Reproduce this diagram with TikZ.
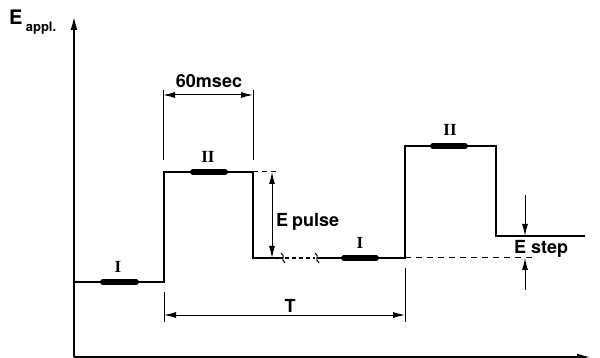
\documentclass[tikz,border=0pt]{standalone}
\usepackage{fontspec}
\setmainfont{TeX Gyre Heros}
\newfontfamily\numeralfont{Liberation Serif}
\usetikzlibrary{arrows.meta}

\tikzset{
  wave/.style={line width=1.5pt},
  dimline/.style={line width=1pt},
  pulsebar/.style={line width=6pt, line cap=round},
  dimarrow/.style={dimline, {Latex[length=12pt,width=6pt]}-{Latex[length=12pt,width=6pt]}},
  onearrow/.style={dimline, -{Latex[length=12pt,width=6pt]}},
  lbl/.style={font=\bfseries\fontsize{18}{20}\selectfont, inner sep=1pt},
  roman/.style={font=\numeralfont\bfseries\fontsize{17}{18}\selectfont, inner sep=1pt}
}

\begin{document}
\begin{tikzpicture}[x=1pt, y=-1pt]
        \useasboundingbox (0,0) rectangle (600,358);
        % axes
        \coordinate (origin) at (74,357);
        \coordinate (ytip) at (74,17);
        \coordinate (xtip) at (590,357);
        \draw[wave, -{Latex[length=13pt,width=7pt]}] (origin) -- (ytip);
        \draw[wave, -{Latex[length=13pt,width=7pt]}] (origin) -- (xtip);
        \node[anchor=west, inner sep=0pt, font=\bfseries] (eappl) at (9,22) {\fontsize{20}{20}\selectfont E\,\raisebox{-0.7ex}{\fontsize{13}{13}\selectfont appl.}};
        % waveform
        \draw[wave] (74,282) -- (164,282) -- (164,172) -- (253,172) -- (253,258) -- (283,258);
        \draw[wave, dash pattern=on 4pt off 3pt] (285,258) -- (315,258);
        \draw[wave] (317,258) -- (405,258) -- (405,146) -- (496,146) -- (496,236) -- (585,236);
        \draw[dimline] (281,253) .. controls (286,256) and (280,259) .. (285,263);
        \draw[dimline] (315,253) .. controls (320,256) and (314,259) .. (319,263);
        % reference levels
        \draw[dimline, dash pattern=on 6pt off 5pt] (405,258) -- (533,258);
        \draw[dimline, dash pattern=on 5pt off 4pt] (253,172) -- (279,172);
        % sampling bars
        \draw[pulsebar] (103,282) -- (136,282);
        \draw[pulsebar] (193,172) -- (225,172);
        \draw[pulsebar] (344,258) -- (376,258);
        \draw[pulsebar] (433,146) -- (465,146);
        \node[roman] (barA) at (118,267) {I};
        \node[roman] (barB) at (208,157) {II};
        \node[roman] (barC) at (360,243) {I};
        \node[roman] (barD) at (450,130) {II};
        % 60 msec
        \coordinate (msecL) at (163,95);
        \coordinate (msecR) at (253,95);
        \draw[dimline] (163,90) -- (163,160);
        \draw[dimline] (253,90) -- (253,160);
        \draw[dimarrow] (msecL) -- (msecR);
        \node[lbl] (msec) at (209,81) {60msec};
        % E pulse
        \coordinate (pulseT) at (272,172);
        \coordinate (pulseB) at (272,258);
        \draw[dimarrow] (pulseT) -- (pulseB);
        \node[lbl, anchor=west] (epulse) at (275,222) {E\hspace{-1pt} pulse};
        % T
        \coordinate (periodL) at (164,315);
        \coordinate (periodR) at (405,315);
        \draw[dimline] (164,292) -- (164,322);
        \draw[dimline] (405,268) -- (405,322);
        \draw[dimarrow] (periodL) -- (periodR);
        \node[lbl] (period) at (290,306) {T};
        % E step
        \coordinate (stepA) at (525,195);
        \coordinate (stepB) at (525,236);
        \coordinate (stepC) at (525,290);
        \coordinate (stepD) at (525,258);
        \draw[onearrow] (stepA) -- (stepB);
        \draw[onearrow] (stepC) -- (stepD);
        \node[lbl, anchor=west] (estep) at (513,249) {E step};
      \end{tikzpicture}
\end{document}
